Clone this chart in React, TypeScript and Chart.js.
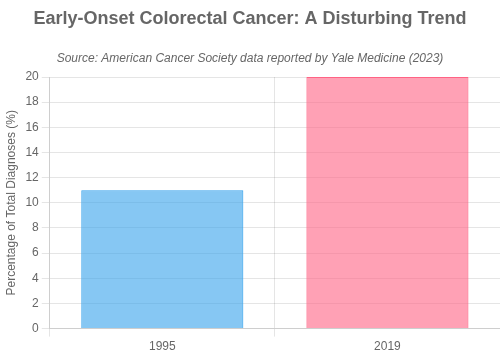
import React, { useEffect, useRef } from "react";
import { Chart, registerables } from "chart.js";

Chart.register(...registerables);

const categories = ["1995", "2019"];
const values = [11, 20];
const barColors = ["rgba(54, 162, 235, 0.6)", "rgba(255, 99, 132, 0.6)"];
const borderColors = ["rgba(54, 162, 235, 1)", "rgba(255, 99, 132, 1)"];
const titleText = "Early-Onset Colorectal Cancer: A Disturbing Trend";
const subtitleText = "Source: American Cancer Society data reported by Yale Medicine (2023)";
const yTitle = "Percentage of Total Diagnoses (%)";

export default function App() {
  const ref = useRef<HTMLCanvasElement | null>(null);
  useEffect(() => {
    document.body.style.margin = "0";
    if (!ref.current) return;
    const chart = new Chart(ref.current, {
      type: "bar",
      data: {
        labels: categories,
        datasets: [
          {
            label: "Percentage",
            data: values,
            backgroundColor: barColors,
            borderColor: borderColors,
            borderWidth: 1,
          },
        ],
      },
      options: {
        animation: false,
        responsive: true,
        maintainAspectRatio: false,
        plugins: {
          legend: { display: false },
          title: {
            display: true,
            text: titleText,
            color: "#666",
            font: { size: 18, weight: "bold", family: "Arial, 'Liberation Sans', sans-serif" },
            padding: { top: 8, bottom: 22 },
          },
          subtitle: {
            display: true,
            text: subtitleText,
            color: "#666",
            font: { size: 12, style: "italic", family: "Arial, 'Liberation Sans', sans-serif" },
            padding: { top: 0, bottom: 11 },
          },
        },
        scales: {
          x: {
            ticks: { color: "#666", font: { size: 12 } },
            grid: { color: "rgba(0,0,0,0.1)" },
          },
          y: {
            beginAtZero: true,
            max: 20,
            ticks: { stepSize: 2, color: "#666", font: { size: 12 } },
            title: { display: true, text: yTitle, color: "#666", font: { size: 12 } },
            grid: { color: "rgba(0,0,0,0.1)" },
          },
        },
      },
    });
    return () => chart.destroy();
  }, []);
  return (
    <div style={{ position: "relative", width: 500, height: 357 }}>
      <canvas ref={ref} />
    </div>
  );
}
